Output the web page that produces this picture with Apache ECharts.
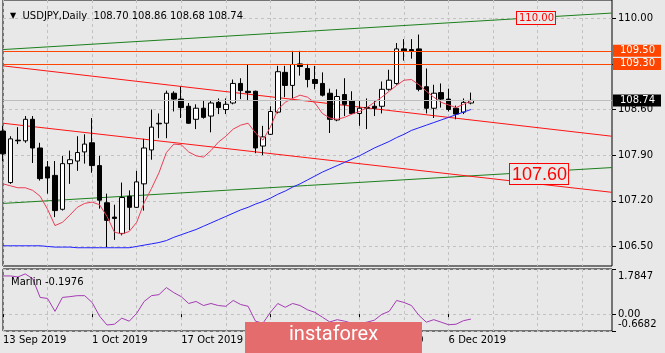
<!DOCTYPE html>
<html>
<head>
<meta charset="utf-8">
<script src="https://cdn.jsdelivr.net/npm/echarts@6/dist/echarts.min.js"></script>
<style>
  html, body { margin: 0; padding: 0; background: #e8e8e8; }
  #chart { width: 665px; height: 353px; }
</style>
</head>
<body>
<div id="chart"></div>
<script>
// trading days shown (one candle each)
const dates = [
  '13 Sep 2019', '16 Sep 2019', '17 Sep 2019', '18 Sep 2019', '19 Sep 2019', '20 Sep 2019',
  '23 Sep 2019', '24 Sep 2019', '25 Sep 2019', '26 Sep 2019', '27 Sep 2019', '30 Sep 2019',
  '1 Oct 2019', '2 Oct 2019', '3 Oct 2019', '4 Oct 2019', '7 Oct 2019', '8 Oct 2019',
  '9 Oct 2019', '10 Oct 2019', '11 Oct 2019', '14 Oct 2019', '15 Oct 2019', '16 Oct 2019',
  '17 Oct 2019', '18 Oct 2019', '21 Oct 2019', '22 Oct 2019', '23 Oct 2019', '24 Oct 2019',
  '25 Oct 2019', '28 Oct 2019', '29 Oct 2019', '30 Oct 2019', '31 Oct 2019', '1 Nov 2019',
  '4 Nov 2019', '5 Nov 2019', '6 Nov 2019', '7 Nov 2019', '8 Nov 2019', '11 Nov 2019',
  '12 Nov 2019', '13 Nov 2019', '14 Nov 2019', '15 Nov 2019', '18 Nov 2019', '19 Nov 2019',
  '20 Nov 2019', '21 Nov 2019', '22 Nov 2019', '25 Nov 2019', '26 Nov 2019', '27 Nov 2019',
  '28 Nov 2019', '29 Nov 2019', '2 Dec 2019', '3 Dec 2019', '4 Dec 2019', '5 Dec 2019',
  '6 Dec 2019', '9 Dec 2019', '10 Dec 2019', '11 Dec 2019'
];

const open = [
  108.27, 107.48, 108.13, 108.12, 108.45, 108.01, 107.72, 107.59, 107.07, 107.77,
  107.81, 107.95, 108.09, 107.74, 107.17, 106.95, 106.70, 107.27, 107.10, 107.46,
  107.98, 108.39, 108.39, 108.85, 108.76, 108.65, 108.45, 108.62, 108.50, 108.71,
  108.60, 108.70, 109.00, 108.88, 108.88, 108.04, 108.22, 108.56, 109.17, 108.97,
  109.30, 109.23, 109.06, 109.00, 108.85, 108.44, 108.83, 108.73, 108.54, 108.62,
  108.65, 108.65, 108.91, 109.00, 109.53, 109.52, 109.53, 108.95, 108.62, 108.86,
  108.76, 108.62, 108.56, 108.70
];
const close = [
  107.92, 108.15, 108.12, 108.45, 108.01, 107.54, 107.55, 107.05, 107.77, 107.83,
  107.94, 108.07, 107.74, 107.21, 106.90, 106.93, 107.25, 107.10, 107.49, 108.01,
  108.33, 108.38, 108.85, 108.76, 108.63, 108.39, 108.62, 108.48, 108.70, 108.63,
  108.68, 109.00, 108.89, 108.86, 108.01, 108.18, 108.57, 109.18, 108.97, 109.29,
  109.26, 109.06, 109.00, 108.82, 108.45, 108.80, 108.68, 108.54, 108.62, 108.63,
  108.62, 108.91, 109.05, 109.53, 109.50, 109.49, 108.91, 108.62, 108.85, 108.76,
  108.60, 108.53, 108.71, 108.74
];
const low = [
  107.81, 107.46, 108.07, 108.09, 107.78, 107.51, 107.31, 106.95, 107.05, 107.46,
  107.66, 107.77, 107.63, 107.08, 106.49, 106.60, 106.67, 106.75, 107.09, 107.05,
  107.83, 108.16, 108.16, 108.57, 108.47, 108.38, 108.30, 108.46, 108.25, 108.53,
  108.53, 108.68, 108.76, 108.73, 107.93, 107.90, 108.21, 108.54, 108.79, 108.77,
  109.12, 108.94, 108.91, 108.80, 108.24, 108.42, 108.50, 108.53, 108.35, 108.30,
  108.50, 108.54, 108.89, 108.98, 109.35, 109.38, 108.88, 108.54, 108.47, 108.63,
  108.57, 108.45, 108.53, 108.68
];
const high = [
  108.35, 108.19, 108.33, 108.50, 108.50, 108.09, 107.81, 107.81, 107.89, 107.97,
  108.19, 108.22, 108.47, 107.89, 107.31, 107.14, 107.48, 107.36, 107.66, 108.15,
  108.60, 108.54, 108.89, 108.88, 108.95, 108.70, 108.68, 108.74, 108.73, 108.77,
  108.77, 109.06, 109.08, 109.29, 108.89, 108.35, 108.65, 109.27, 109.27, 109.50,
  109.50, 109.30, 109.27, 109.17, 108.92, 108.91, 109.08, 108.88, 108.73, 108.77,
  108.73, 109.03, 109.21, 109.62, 109.68, 109.68, 109.75, 109.23, 108.98, 109.00,
  108.92, 108.66, 108.77, 108.86
];

// moving averages
const maFast = [
  107.46, 107.43, 107.40, 107.40, 107.36, 107.27, 107.07, 106.82, 106.87, 106.98,
  107.10, 107.16, 107.18, 107.14, 106.96, 106.72, 106.69, 106.73, 106.87, 107.17,
  107.39, 107.63, 107.94, 108.07, 108.06, 107.95, 107.89, 107.87, 107.97, 108.10,
  108.19, 108.30, 108.36, 108.39, 108.24, 108.13, 108.33, 108.60, 108.71, 108.77,
  108.82, 108.79, 108.70, 108.54, 108.47, 108.45, 108.48, 108.53, 108.57, 108.63,
  108.71, 108.79, 108.88, 108.97, 109.05, 109.06, 108.98, 108.88, 108.79, 108.71,
  108.67, 108.63, 108.68, 108.73
];
const maSlow = [
  106.51, 106.51, 106.51, 106.51, 106.51, 106.51, 106.50, 106.49, 106.49, 106.49,
  106.48, 106.48, 106.48, 106.48, 106.48, 106.48, 106.48, 106.48, 106.50, 106.52,
  106.54, 106.56, 106.59, 106.64, 106.68, 106.72, 106.76, 106.81, 106.86, 106.91,
  106.96, 107.01, 107.06, 107.10, 107.15, 107.19, 107.24, 107.30, 107.35, 107.41,
  107.46, 107.52, 107.58, 107.64, 107.69, 107.74, 107.79, 107.84, 107.89, 107.95,
  108.01, 108.06, 108.11, 108.17, 108.22, 108.28, 108.32, 108.36, 108.40, 108.44,
  108.48, 108.52, 108.56, 108.60
];

// Marlin oscillator (lower window)
const marlin = [
  1.51, 1.51, 1.47, 1.59, 1.40, 0.66, 0.62, 0.11, 0.66, 0.69,
  0.73, 0.73, 0.46, -0.08, -0.43, -0.40, -0.16, -0.28, 0.03, 0.50,
  0.73, 0.77, 1.05, 0.85, 0.69, 0.42, 0.50, 0.34, 0.42, 0.34,
  0.31, 0.54, 0.38, 0.31, -0.28, -0.36, 0.07, 0.42, 0.27, 0.42,
  0.34, 0.17, 0.07, -0.12, -0.31, -0.22, -0.28, -0.36, -0.36, -0.32,
  -0.24, -0.01, 0.11, 0.54, 0.46, 0.34, -0.05, -0.32, -0.22, -0.32,
  -0.42, -0.40, -0.26, -0.1976
];

// trendlines: [bar index, price] at both ends
const trendGreenUpper = [[0, 109.52], [82, 110.08]];
const trendRedUpper = [[0, 109.27], [82, 108.19]];
const trendRedLower = [[0, 108.39], [82, 107.33]];
const trendGreenLower = [[0, 107.16], [82, 107.71]];

const levels = [109.50, 109.30];
const lastPrice = 108.74;
const notes = ['110.00', '107.60'];

const priceTicks = [106.50, 107.20, 107.90, 108.60, 109.30, 110.00];
const oscTicks = [-0.6682, 0, 1.7847];

const slots = 83; // candles plus empty space on the right
const FONT = 'DejaVu Sans';
const BG = '#e8e8e8';

const idx = Array.from({ length: slots }, (_, i) => String(i));
const candles = open.map((o, i) => [o, close[i], low[i], high[i]]);
const last = open.length - 1;
const labelEvery12 = (i) => i % 12 === 0 && i < dates.length;

const chart = echarts.init(document.getElementById('chart'));

const gridSplit = { show: true, interval: 5, lineStyle: { color: '#c2c2c2', type: [3, 3], width: 1 } };

function levelLine(v, color, bg) {
  return {
    yAxis: v,
    lineStyle: { color: color, width: 1, type: 'solid' },
    label: {
      show: true, position: 'end', distance: 1, formatter: v.toFixed(2),
      backgroundColor: bg, color: '#fff', fontFamily: FONT, fontSize: 10,
      lineHeight: 11, padding: [1, 6, 0, 7]
    }
  };
}

chart.setOption({
  backgroundColor: BG,
  animation: false,
  title: [
    {
      text: '{t|▼}  USDJPY,Daily  ' + [open[last], high[last], low[last], close[last]].map(v => v.toFixed(2)).join(' '),
      left: 5, top: 6,
      textStyle: { fontFamily: FONT, fontSize: 10, fontWeight: 'normal', color: '#000', rich: { t: { fontSize: 8, color: '#000' } } }
    },
    {
      text: 'Marlin ' + marlin[last].toFixed(4),
      left: 6, top: 272,
      textStyle: { fontFamily: FONT, fontSize: 10, fontWeight: 'normal', color: '#000' }
    }
  ],
  grid: [
    { left: 3, top: -2, width: 609, height: 268, show: true, borderColor: '#000', borderWidth: 1, backgroundColor: 'transparent' },
    { left: 3, top: 269, width: 609, height: 62, show: true, borderColor: '#000', borderWidth: 1, backgroundColor: 'transparent' }
  ],
  xAxis: [
    {
      type: 'category', gridIndex: 0, data: idx, boundaryGap: false,
      axisLine: { show: false }, axisTick: { show: false }, axisLabel: { show: false },
      splitLine: gridSplit
    },
    {
      type: 'category', gridIndex: 1, data: idx, boundaryGap: false,
      axisLine: { show: false },
      axisTick: { show: true, interval: labelEvery12, length: 3, lineStyle: { color: '#000' } },
      axisLabel: {
        interval: labelEvery12, align: 'left', margin: 4,
        fontFamily: FONT, fontSize: 10, color: '#000',
        formatter: (v) => dates[+v] || ''
      },
      splitLine: gridSplit
    }
  ],
  yAxis: [
    {
      type: 'value', gridIndex: 0, position: 'right', min: 106.2, max: 110.28,
      axisLine: { show: false },
      axisTick: { show: true, length: 4, customValues: priceTicks, lineStyle: { color: '#000' } },
      axisLabel: { customValues: priceTicks, formatter: (v) => v.toFixed(2), fontFamily: FONT, fontSize: 10, color: '#000', margin: 6 },
      splitLine: { show: true, lineStyle: { color: '#c2c2c2', type: [3, 3], width: 1 } }
    },
    {
      type: 'value', gridIndex: 1, position: 'right', min: oscTicks[0], max: oscTicks[2],
      axisLine: { show: false },
      axisTick: { show: true, length: 4, customValues: oscTicks, lineStyle: { color: '#000' } },
      axisLabel: {
        customValues: oscTicks, fontFamily: FONT, fontSize: 10, color: '#000', margin: 6,
        formatter: (v) => {
          if (v === oscTicks[2]) return '{top|' + v.toFixed(4) + '}';
          if (v === oscTicks[0]) return '{bot|' + v.toFixed(4) + '}';
          return v.toFixed(2);
        },
        rich: {
          top: { fontFamily: FONT, fontSize: 10, color: '#000', padding: [14, 0, 0, 0] },
          bot: { fontFamily: FONT, fontSize: 10, color: '#000', padding: [0, 0, 14, 0] }
        }
      },
      splitLine: { show: true, lineStyle: { color: '#c2c2c2', type: [3, 3], width: 1 } }
    }
  ],
  series: [
    { type: 'line', xAxisIndex: 0, yAxisIndex: 0, data: trendGreenUpper, symbol: 'none', lineStyle: { color: '#1c801c', width: 1 }, z: 1 },
    { type: 'line', xAxisIndex: 0, yAxisIndex: 0, data: trendGreenLower, symbol: 'none', lineStyle: { color: '#1c801c', width: 1 }, z: 1 },
    { type: 'line', xAxisIndex: 0, yAxisIndex: 0, data: trendRedUpper, symbol: 'none', lineStyle: { color: '#ff1414', width: 1 }, z: 1 },
    { type: 'line', xAxisIndex: 0, yAxisIndex: 0, data: trendRedLower, symbol: 'none', lineStyle: { color: '#ff1414', width: 1 }, z: 1 },
    {
      type: 'candlestick', xAxisIndex: 0, yAxisIndex: 0, data: candles, barWidth: 5, z: 3,
      itemStyle: { color: '#fff', color0: '#000', borderColor: '#000', borderColor0: '#000', borderWidth: 1 },
      markLine: {
        symbol: 'none', silent: true, animation: false,
        data: [
          levelLine(levels[0], '#ff4500', '#ff4500'),
          levelLine(levels[1], '#ff4500', '#ff4500'),
          levelLine(lastPrice, '#bdbdbd', '#000')
        ]
      }
    },
    { type: 'line', xAxisIndex: 0, yAxisIndex: 0, data: maFast, symbol: 'none', lineStyle: { color: '#ec3f55', width: 1 }, z: 4 },
    { type: 'line', xAxisIndex: 0, yAxisIndex: 0, data: maSlow, symbol: 'none', lineStyle: { color: '#2020ff', width: 1 }, z: 4 },
    { type: 'line', xAxisIndex: 1, yAxisIndex: 1, data: marlin, symbol: 'none', lineStyle: { color: '#a43cb4', width: 1 } }
  ],
  graphic: [
    {
      type: 'text', left: 516, top: 11, z: 50,
      style: {
        text: notes[0], fill: '#ff0000', font: '10px "DejaVu Sans"',
        backgroundColor: BG, borderColor: '#ff0000', borderWidth: 1, padding: [1, 1, 1, 2]
      }
    },
    {
      type: 'text', left: 509, top: 163, z: 50,
      style: {
        text: notes[1], fill: '#ff0000', font: '18px "Liberation Sans"',
        backgroundColor: BG, borderColor: '#ff0000', borderWidth: 1, padding: [2, 1, 0, 2]
      }
    },
    {
      type: 'rect', left: 245, top: 322, z: 100,
      shape: { width: 177, height: 32 }, style: { fill: '#e46c6c' }
    },
    {
      type: 'text', left: 289, top: 325, z: 101,
      style: { text: 'instaforex', fill: '#fff', font: '20px Roboto' }
    }
  ]
});
</script>
</body>
</html>
